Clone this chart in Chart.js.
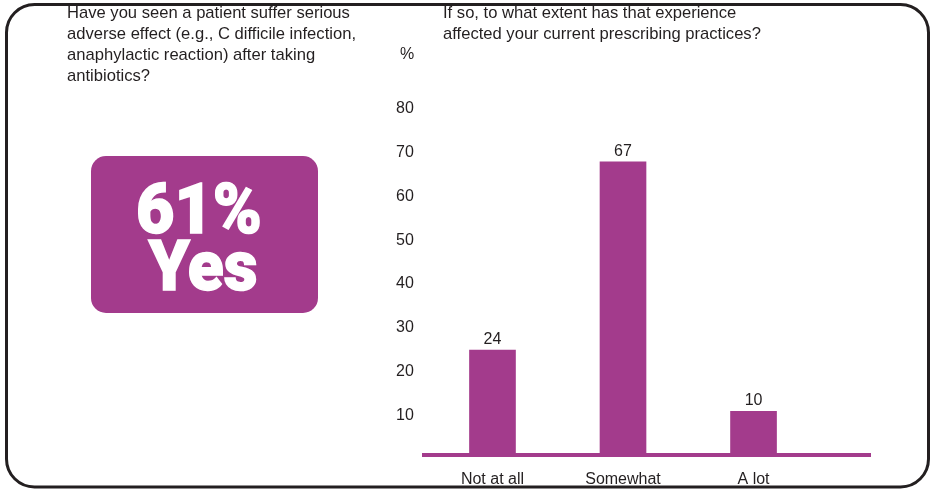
<!DOCTYPE html>
<html>
<head>
<meta charset="utf-8">
<script src="https://cdn.jsdelivr.net/npm/chart.js@4/dist/chart.umd.min.js"></script>
<style>
  html, body { margin: 0; padding: 0; background: #fff; }
  #wrap { width: 931px; height: 489px; position: relative; }
</style>
</head>
<body>
<div id="wrap"><canvas id="c"></canvas></div>
<script>
// Survey answers (percent of respondents)
const categories = ['Not at all', 'Somewhat', 'A lot'];
const shares = [24, 67, 10];
const yTicks = [10, 20, 30, 40, 50, 60, 70, 80];

const headlineValue = '61%';
const headlineAnswer = 'Yes';
const leftQuestion = [
  'Have you seen a patient suffer serious',
  'adverse effect (e.g., C difficile infection,',
  'anaphylactic reaction) after taking',
  'antibiotics?'
];
const rightQuestion = [
  'If so, to what extent has that experience',
  'affected your current prescribing practices?'
];
const axisUnit = '%';

const PURPLE = '#a33b8c';
const INK = '#231f20';
const FONT = '"Liberation Sans", Arial, sans-serif';
const HEAVY = 'Roboto, "Liberation Sans", sans-serif';

function roundRect(ctx, x, y, w, h, r) {
  ctx.beginPath();
  ctx.moveTo(x + r, y);
  ctx.arcTo(x + w, y, x + w, y + h, r);
  ctx.arcTo(x + w, y + h, x, y + h, r);
  ctx.arcTo(x, y + h, x, y, r);
  ctx.arcTo(x, y, x + w, y, r);
  ctx.closePath();
}

// Heavy text squeezed horizontally to a given width, centred on cx
function drawHeavy(ctx, text, cx, baseline, width) {
  const w = ctx.measureText(text).width;
  ctx.save();
  ctx.translate(cx, baseline);
  ctx.scale(width / w, 1);
  ctx.textAlign = 'center';
  ctx.lineJoin = 'miter';
  ctx.lineWidth = 1.5;
  ctx.strokeStyle = '#fff';
  ctx.strokeText(text, 0, 0);
  ctx.fillText(text, 0, 0);
  ctx.restore();
}

const decor = {
  id: 'decor',
  beforeDraw(chart) {
    const ctx = chart.ctx;
    ctx.save();
    // outer rounded frame
    ctx.lineWidth = 3;
    ctx.strokeStyle = INK;
    roundRect(ctx, 6.5, 4.5, 922, 482.5, 28);
    ctx.stroke();

    // question texts
    ctx.fillStyle = INK;
    ctx.font = '16.6px ' + FONT;
    ctx.textAlign = 'left';
    ctx.textBaseline = 'alphabetic';
    leftQuestion.forEach((t, i) => ctx.fillText(t, 67, 18 + i * 21));
    rightQuestion.forEach((t, i) => ctx.fillText(t, 443, 18 + i * 21));

    // unit label above the value axis
    const ys = chart.scales.y;
    ctx.font = '16px ' + FONT;
    ctx.fillText(axisUnit, ys.left + 4, chart.chartArea.top - 46);

    // headline box
    ctx.fillStyle = PURPLE;
    roundRect(ctx, 91, 156, 227, 157, 15);
    ctx.fill();
    ctx.fillStyle = '#fff';
    ctx.font = '900 70px ' + HEAVY;
    drawHeavy(ctx, headlineValue, 199, 233, 126);
    drawHeavy(ctx, headlineAnswer, 203, 290, 109);
    ctx.restore();
  },
  afterDatasetsDraw(chart) {
    const ctx = chart.ctx;
    const area = chart.chartArea;
    const zero = chart.scales.y.getPixelForValue(0);
    ctx.save();
    // baseline
    ctx.fillStyle = PURPLE;
    ctx.fillRect(area.left, zero - 2, area.right - area.left, 4);
    // value labels
    ctx.fillStyle = INK;
    ctx.font = '16px ' + FONT;
    ctx.textAlign = 'center';
    ctx.textBaseline = 'alphabetic';
    const meta = chart.getDatasetMeta(0);
    meta.data.forEach((bar, i) => {
      ctx.fillText(String(shares[i]), bar.x, bar.y - 6);
    });
    ctx.restore();
  }
};

new Chart(document.getElementById('c'), {
  type: 'bar',
  data: {
    datasets: [{
      data: categories.map((c, i) => ({ x: i, y: shares[i] })),
      backgroundColor: PURPLE,
      borderWidth: 0,
      barThickness: 46
    }]
  },
  options: {
    responsive: true,
    maintainAspectRatio: false,
    animation: false,
    devicePixelRatio: 1,
    layout: { padding: { left: 396, right: 60, top: 105, bottom: 0 } },
    plugins: { legend: { display: false }, tooltip: { enabled: false } },
    scales: {
      x: {
        type: 'linear',
        min: -0.54,
        max: 2.9,
        offset: false,
        grid: { display: false, drawTicks: false, offset: false },
        border: { display: false },
        afterBuildTicks(s) { s.ticks = categories.map((c, i) => ({ value: i })); },
        afterFit(s) { s.height = 34; },
        ticks: {
          color: INK,
          font: { family: FONT, size: 16 },
          padding: 15,
          maxRotation: 0,
          autoSkip: false,
          callback: (v) => categories[v]
        }
      },
      y: {
        min: 0,
        max: 80,
        afterBuildTicks(s) { s.ticks = yTicks.map(v => ({ value: v })); },
        afterFit(s) { s.width = 26; },
        grid: { display: false, drawTicks: false },
        border: { display: false },
        ticks: {
          color: INK,
          font: { family: FONT, size: 16 },
          crossAlign: 'far',
          labelOffset: 4
        }
      }
    }
  },
  plugins: [decor]
});
</script>
</body>
</html>
